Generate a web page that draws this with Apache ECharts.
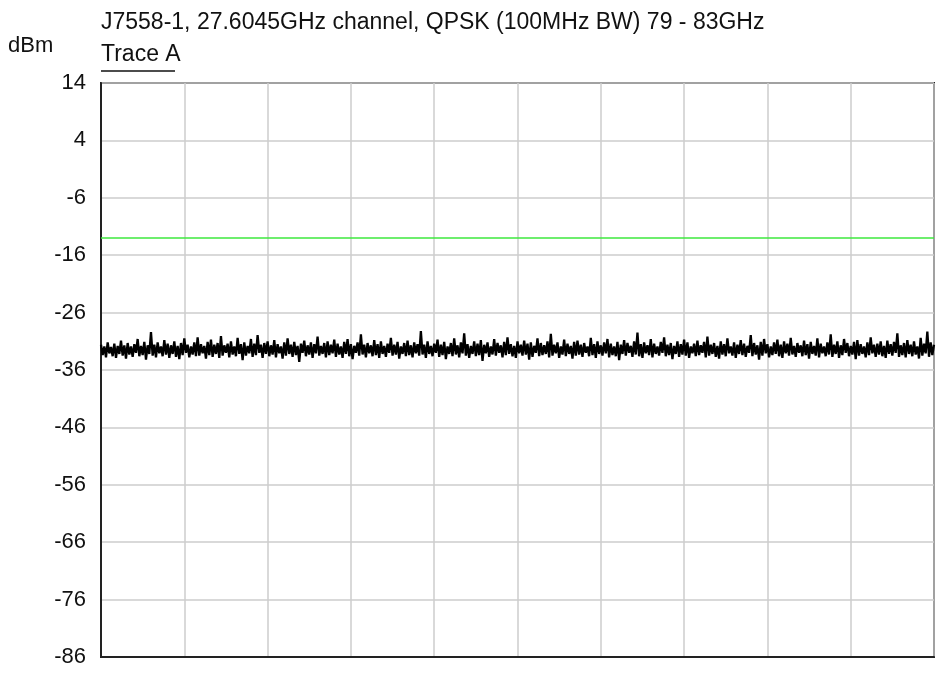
<!DOCTYPE html>
<html><head><meta charset="utf-8">
<script src="https://cdn.jsdelivr.net/npm/echarts@6/dist/echarts.min.js"></script>
<style>html,body{margin:0;padding:0;background:#fff}#c{width:937px;height:675px}</style>
</head><body><div id="c"></div>
<script>
const titleText = 'J7558-1, 27.6045GHz channel, QPSK (100MHz BW) 79 - 83GHz';
const yUnit = 'dBm';
const traceName = 'Trace A';
const yMin = -86, yMax = 14, yStep = 10;
const limitLevel = -13;
const traceA = [
-31.6,-33.4,-31.9,-33.8,-31.2,-33.1,-32.0,-33.6,-31.4,-33.9,-31.8,-33.2,-30.9,-33.5,-31.7,-34.0,-31.3,-33.3,-31.9,-33.7,
-31.5,-33.0,-30.6,-33.6,-31.8,-33.4,-31.1,-34.2,-31.7,-33.2,-29.4,-33.5,-31.6,-33.8,-31.2,-33.1,-31.9,-33.6,-30.8,-33.3,
-31.4,-33.9,-31.7,-33.2,-31.0,-33.7,-31.8,-34.1,-31.3,-33.4,-30.5,-33.0,-31.6,-33.8,-31.9,-33.3,-31.2,-33.6,-30.3,-33.5,
-31.5,-33.1,-31.8,-34.0,-31.1,-33.4,-30.7,-33.7,-31.6,-33.2,-31.3,-33.9,-30.1,-33.5,-31.7,-33.0,-31.4,-33.8,-31.0,-33.3,
-31.9,-33.6,-30.4,-33.2,-31.5,-34.3,-31.2,-33.5,-31.8,-33.1,-30.6,-33.7,-31.4,-33.4,-29.9,-33.0,-31.6,-33.9,-31.3,-33.2,
-31.0,-33.6,-31.7,-33.3,-30.8,-33.8,-31.5,-33.1,-31.9,-34.0,-31.2,-33.5,-30.5,-33.2,-31.6,-33.7,-31.1,-33.4,-31.8,-34.6,
-31.4,-33.0,-30.9,-33.6,-31.7,-33.3,-31.2,-33.9,-31.5,-33.1,-30.2,-33.5,-31.8,-33.2,-31.3,-33.8,-31.0,-33.4,-31.6,-33.1,
-30.7,-33.7,-31.4,-33.3,-31.9,-33.9,-31.1,-33.2,-30.6,-33.6,-31.5,-34.1,-31.8,-33.0,-31.2,-33.5,-29.8,-33.3,-31.6,-33.8,
-31.3,-33.1,-31.7,-33.6,-30.8,-33.4,-31.5,-33.9,-31.0,-33.2,-31.8,-33.7,-31.4,-33.0,-30.4,-33.5,-31.6,-33.3,-31.1,-34.0,
-31.9,-33.2,-31.3,-33.6,-30.9,-33.4,-31.7,-33.8,-31.2,-33.1,-31.5,-33.5,-29.2,-33.3,-31.6,-33.9,-31.0,-33.2,-31.8,-33.6,
-31.4,-33.0,-30.7,-33.7,-31.6,-33.4,-31.1,-34.1,-31.9,-33.2,-31.3,-33.6,-30.5,-33.3,-31.7,-33.8,-31.2,-33.1,-29.6,-33.5,
-31.5,-33.9,-31.8,-33.2,-31.0,-33.6,-31.4,-33.4,-30.8,-34.4,-31.6,-33.1,-31.2,-33.7,-31.9,-33.3,-30.6,-33.5,-31.3,-33.0,
-31.7,-33.8,-31.1,-33.4,-30.3,-33.2,-31.5,-33.6,-31.8,-33.9,-31.0,-33.1,-31.6,-33.5,-30.9,-33.3,-31.4,-34.2,-31.2,-33.7,
-31.8,-33.0,-30.5,-33.6,-31.3,-33.4,-31.7,-33.2,-31.0,-33.8,-29.7,-33.5,-31.6,-33.1,-31.2,-33.9,-31.9,-33.3,-30.7,-33.6,
-31.4,-33.2,-31.8,-34.0,-31.1,-33.5,-30.9,-33.3,-31.6,-33.7,-31.3,-33.0,-31.9,-33.6,-30.4,-33.4,-31.5,-33.9,-31.0,-33.2,
-31.7,-33.5,-31.2,-33.1,-30.6,-33.8,-31.4,-33.4,-31.9,-33.6,-31.1,-34.3,-31.6,-33.2,-30.8,-33.5,-31.3,-33.0,-31.8,-33.7,
-31.0,-33.3,-29.5,-33.6,-31.5,-33.9,-31.2,-33.1,-31.7,-33.4,-30.6,-33.8,-31.4,-33.2,-31.9,-33.5,-31.1,-33.0,-30.3,-33.6,
-31.6,-33.4,-31.3,-34.1,-31.8,-33.2,-31.0,-33.7,-31.5,-33.3,-30.7,-33.5,-31.2,-33.9,-31.9,-33.1,-31.4,-33.6,-30.9,-33.4,
-31.7,-33.0,-31.1,-33.8,-30.2,-33.5,-31.6,-33.2,-31.3,-33.7,-31.8,-34.0,-31.0,-33.3,-31.5,-33.6,-30.5,-33.1,-31.9,-33.5,
-31.2,-33.9,-31.6,-33.2,-30.8,-33.4,-31.4,-33.7,-31.8,-33.0,-29.9,-33.6,-31.3,-33.3,-31.7,-34.2,-31.1,-33.5,-30.6,-33.1,
-31.5,-33.8,-31.9,-33.4,-31.2,-33.2,-30.7,-33.6,-31.6,-33.9,-31.0,-33.1,-31.4,-33.5,-30.4,-33.3,-31.8,-33.7,-31.3,-33.0,
-31.7,-33.6,-30.9,-33.4,-31.5,-34.0,-31.1,-33.2,-31.8,-33.5,-30.5,-33.8,-31.4,-33.1,-31.9,-33.6,-31.2,-33.3,-29.8,-33.7,
-31.6,-33.2,-31.0,-33.9,-31.7,-33.4,-30.6,-33.0,-31.3,-33.6,-31.8,-33.3,-31.1,-34.1,-30.8,-33.5,-31.5,-33.2,-31.9,-33.8,
-31.2,-33.4,-30.3,-33.1,-31.6,-33.7,-31.4,-33.3,-31.0,-33.6,-31.8,-33.9,-30.9,-33.2,-31.5,-33.5,-31.1,-33.0,-29.6,-33.7,
-31.7,-33.4,-31.3,-33.8,-30.8,-33.2,-31.6,-33.6,-31.0,-33.3,-31.9,-34.0,-30.4,-33.5,-31.4,-33.1,-29.3,-33.7,-31.2,-33.4,
-31.6
];
const xDivisions = 10;

const nPts = traceA.length - 1;
const traceData = traceA.map((v, i) => [i, v]);
const font = '"Liberation Sans", Arial, sans-serif';

const chart = echarts.init(document.getElementById('c'), null, {renderer: 'canvas'});
chart.setOption({
  animation: false,
  backgroundColor: '#fff',
  title: {
    text: titleText, left: 101, top: 11, padding: 0,
    textStyle: {fontFamily: font, fontSize: 23, fontWeight: 'normal', color: '#111'}
  },
  graphic: [
    {type: 'text', left: 8, top: 35, style: {text: yUnit, font: '22px ' + font, fill: '#111'}},
    {type: 'text', left: 101, top: 43, style: {text: traceName, font: '23px ' + font, fill: '#111'}},
    {type: 'line', shape: {x1: 101, y1: 71, x2: 175, y2: 71}, style: {stroke: '#111', lineWidth: 1.5}}
  ],
  grid: {left: 101, right: 3, top: 83, bottom: 18, show: true, borderColor: '#222', borderWidth: 2, backgroundColor: 'transparent'},
  xAxis: {
    type: 'value', min: 0, max: nPts, interval: nPts / xDivisions,
    axisLabel: {show: false}, axisTick: {show: false},
    axisLine: {show: true, onZero: false, lineStyle: {color: '#222', width: 2}},
    splitLine: {show: true, lineStyle: {color: '#cccccc', width: 1.5}}
  },
  yAxis: {
    type: 'value', min: yMin, max: yMax, interval: yStep,
    axisLabel: {fontFamily: font, fontSize: 22, color: '#111', margin: 15},
    axisTick: {show: false},
    axisLine: {show: true, onZero: false, lineStyle: {color: '#222', width: 2}},
    splitLine: {show: true, lineStyle: {color: '#cccccc', width: 1.5}}
  },
  series: [
    {
      name: 'Limit', type: 'line', symbol: 'none', silent: true,
      data: [[0, limitLevel], [nPts, limitLevel]],
      lineStyle: {color: '#3ee83e', width: 1.5}, z: 3
    },
    {
      name: traceName, type: 'line', symbol: 'none', silent: true,
      data: traceData, sampling: null,
      lineStyle: {color: '#000', width: 2.3}, z: 4
    }
  ]
});
</script></body></html>
